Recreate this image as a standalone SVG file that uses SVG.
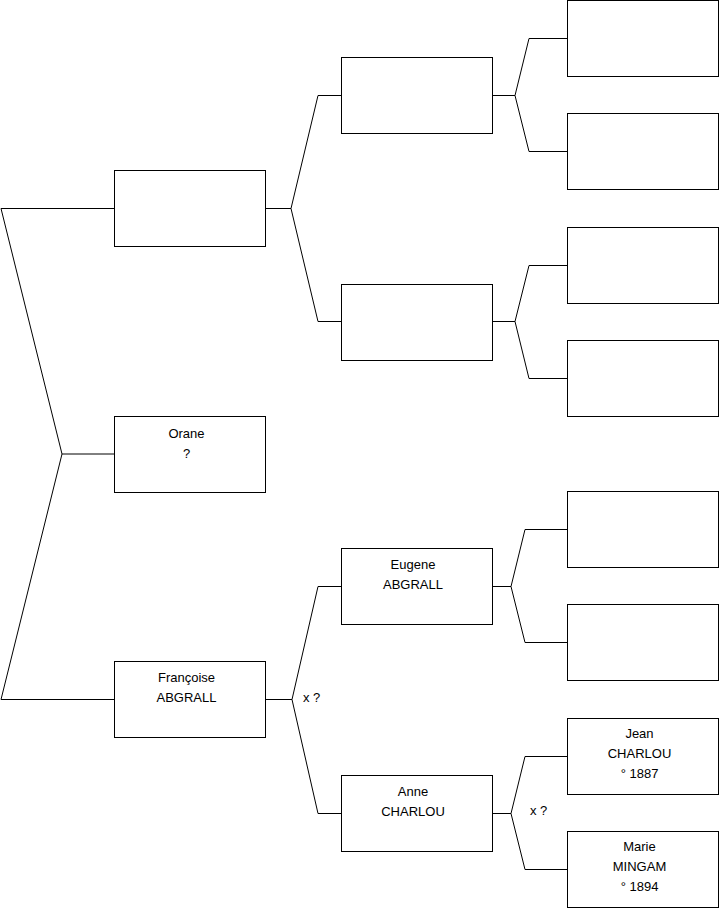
<svg xmlns="http://www.w3.org/2000/svg" width="719" height="908" viewBox="0 0 719 908">
<style>
.box{fill:#fff;stroke:#000;stroke-width:1}
.c{fill:none;stroke:#000;stroke-width:1}
text{font-family:"Liberation Sans",Arial,sans-serif;font-size:13px;fill:#000;text-anchor:middle}
.l{text-anchor:start}
</style>
<rect width="719" height="908" fill="#fff"/>
<g id="connectors">
<polyline class="c" points="114,208.5 1,208.5 62,454 1,699.5 114,699.5"/>
<polyline class="c" points="62,454 114,454"/>
<polyline class="c" points="265,208.5 291,208.5"/>
<polyline class="c" points="341,95.5 318,95.5 291,208.5 318,321.5 341,321.5"/>
<polyline class="c" points="492,95.5 515,95.5"/>
<polyline class="c" points="567,38.5 529,38.5 515,95.5 529,151.5 567,151.5"/>
<polyline class="c" points="492,321.5 515,321.5"/>
<polyline class="c" points="567,265.5 529,265.5 515,321.5 529,378.5 567,378.5"/>
<polyline class="c" points="265,699.5 292,699.5"/>
<polyline class="c" points="341,586.5 318,586.5 292,699.5 318,813.5 341,813.5"/>
<polyline class="c" points="492,586.5 511,586.5"/>
<polyline class="c" points="567,529.5 525,529.5 511,586.5 525,642.5 567,642.5"/>
<polyline class="c" points="492,813.5 511,813.5"/>
<polyline class="c" points="567,756.5 525,756.5 511,813.5 525,869.5 567,869.5"/>
<text class="l" x="303" y="702">x ?</text>
<text class="l" x="530" y="815">x ?</text>
</g>
<g id="n1"><rect class="box" x="114.5" y="170.5" width="151" height="76"/></g>
<g id="n2"><rect class="box" x="114.5" y="416.5" width="151" height="76"/><text x="186.5" y="438">Orane</text><text x="186.5" y="458">?</text></g>
<g id="n3"><rect class="box" x="114.5" y="661.5" width="151" height="76"/><text x="186.5" y="682">Françoise</text><text x="186.5" y="702">ABGRALL</text></g>
<g id="n4"><rect class="box" x="341.5" y="57.5" width="151" height="76"/></g>
<g id="n5"><rect class="box" x="341.5" y="284.5" width="151" height="76"/></g>
<g id="n6"><rect class="box" x="341.5" y="548.5" width="151" height="76"/><text x="413" y="569">Eugene</text><text x="413" y="589">ABGRALL</text></g>
<g id="n7"><rect class="box" x="341.5" y="775.5" width="151" height="76"/><text x="413" y="796">Anne</text><text x="413" y="816">CHARLOU</text></g>
<g id="n8"><rect class="box" x="567.5" y="0.5" width="151" height="76"/></g>
<g id="n9"><rect class="box" x="567.5" y="113.5" width="151" height="76"/></g>
<g id="n10"><rect class="box" x="567.5" y="227.5" width="151" height="76"/></g>
<g id="n11"><rect class="box" x="567.5" y="340.5" width="151" height="76"/></g>
<g id="n12"><rect class="box" x="567.5" y="491.5" width="151" height="76"/></g>
<g id="n13"><rect class="box" x="567.5" y="604.5" width="151" height="76"/></g>
<g id="n14"><rect class="box" x="567.5" y="718.5" width="151" height="76"/><text x="639.5" y="738">Jean</text><text x="639.5" y="758">CHARLOU</text><text x="639.5" y="778">° 1887</text></g>
<g id="n15"><rect class="box" x="567.5" y="831.5" width="151" height="76"/><text x="639.5" y="851">Marie</text><text x="639.5" y="871">MINGAM</text><text x="639.5" y="891">° 1894</text></g>
</svg>
